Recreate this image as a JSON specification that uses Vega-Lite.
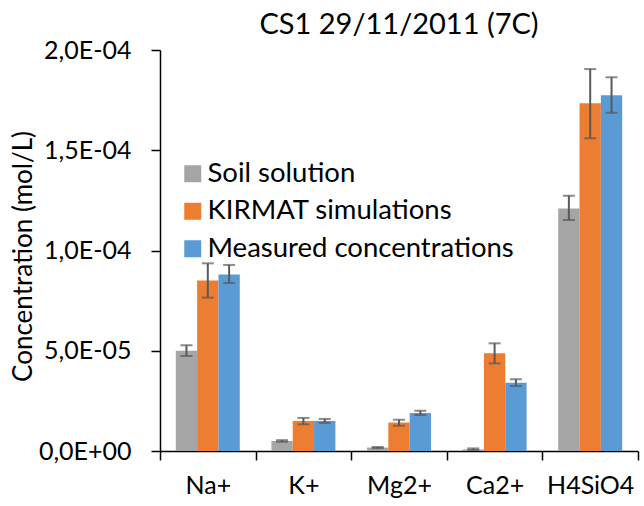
{
  "$schema": "https://vega.github.io/schema/vega-lite/v6.json",
  "autosize": {"type": "none"},
  "padding": {"left": 160, "top": 50, "right": 6, "bottom": 55},
  "width": 478,
  "height": 401,
  "title": {
    "text": "CS1 29/11/2011 (7C)",
    "font": "Lato",
    "fontSize": 29,
    "fontWeight": "normal",
    "color": "#000000",
    "baseline": "alphabetic",
    "offset": 12,
    "dy": 37
  },
  "data": {
    "values": [
      {"ion": "Na+", "series": "Soil solution", "value": 5.0e-5, "lo": 4.74e-5, "hi": 5.27e-5},
      {"ion": "Na+", "series": "KIRMAT simulations", "value": 8.5e-5, "lo": 7.65e-5, "hi": 9.36e-5},
      {"ion": "Na+", "series": "Measured concentrations", "value": 8.8e-5, "lo": 8.38e-5, "hi": 9.28e-5},
      {"ion": "K+", "series": "Soil solution", "value": 5.0e-6, "lo": 4.6e-6, "hi": 5.4e-6},
      {"ion": "K+", "series": "KIRMAT simulations", "value": 1.5e-5, "lo": 1.33e-5, "hi": 1.65e-5},
      {"ion": "K+", "series": "Measured concentrations", "value": 1.5e-5, "lo": 1.4e-5, "hi": 1.6e-5},
      {"ion": "Mg2+", "series": "Soil solution", "value": 1.7e-6, "lo": 1.4e-6, "hi": 2.0e-6},
      {"ion": "Mg2+", "series": "KIRMAT simulations", "value": 1.42e-5, "lo": 1.26e-5, "hi": 1.56e-5},
      {"ion": "Mg2+", "series": "Measured concentrations", "value": 1.9e-5, "lo": 1.8e-5, "hi": 2.01e-5},
      {"ion": "Ca2+", "series": "Soil solution", "value": 8.0e-7, "lo": 5.0e-7, "hi": 1.3e-6},
      {"ion": "Ca2+", "series": "KIRMAT simulations", "value": 4.87e-5, "lo": 4.37e-5, "hi": 5.37e-5},
      {"ion": "Ca2+", "series": "Measured concentrations", "value": 3.41e-5, "lo": 3.24e-5, "hi": 3.58e-5},
      {"ion": "H4SiO4", "series": "Soil solution", "value": 1.21e-4, "lo": 1.152e-4, "hi": 1.273e-4},
      {"ion": "H4SiO4", "series": "KIRMAT simulations", "value": 1.734e-4, "lo": 1.56e-4, "hi": 1.905e-4},
      {"ion": "H4SiO4", "series": "Measured concentrations", "value": 1.774e-4, "lo": 1.687e-4, "hi": 1.864e-4}
    ]
  },
  "encoding": {
    "x": {
      "field": "ion",
      "type": "nominal",
      "sort": ["Na+", "K+", "Mg2+", "Ca2+", "H4SiO4"],
      "scale": {"paddingInner": 0, "paddingOuter": 0},
      "axis": {
        "title": null,
        "labelAngle": 0,
        "tickBand": "extent",
        "tickSize": 9,
        "tickWidth": 1.5,
        "domainWidth": 1.5,
        "labelPadding": 13,
        "labelFontSize": 25
      }
    },
    "xOffset": {
      "field": "series",
      "type": "nominal",
      "sort": ["Soil solution", "KIRMAT simulations", "Measured concentrations"],
      "scale": {"paddingInner": 0, "paddingOuter": 0.741}
    }
  },
  "layer": [
    {
      "mark": {"type": "bar"},
      "encoding": {
        "y": {
          "field": "value",
          "type": "quantitative",
          "scale": {"domain": [0, 0.0002], "nice": false, "zero": true},
          "axis": {
            "title": "Concentration (mol/L)",
            "values": [0, 0.00005, 0.0001, 0.00015, 0.0002],
            "labelExpr": "datum.value === 0 ? '0,0E+00' : replace(replace(format(datum.value, '.1e'), '.', ','), 'e-', 'E-0')",
            "grid": false,
            "tickSize": 9,
            "tickWidth": 1.5,
            "domainWidth": 1.5,
            "labelPadding": 20,
            "labelFontSize": 25,
            "titleFontSize": 26,
            "titleX": -137,
            "titleY": 206,
            "titleAngle": -90,
            "titleBaseline": "middle",
            "titleAlign": "center"
          }
        },
        "color": {
          "field": "series",
          "type": "nominal",
          "sort": ["Soil solution", "KIRMAT simulations", "Measured concentrations"],
          "scale": {
            "domain": ["Soil solution", "KIRMAT simulations", "Measured concentrations"],
            "range": ["#A5A5A5", "#ED7D31", "#5B9BD5"]
          },
          "legend": {
            "title": null,
            "orient": "none",
            "legendX": 19,
            "legendY": 110,
            "symbolType": "square",
            "symbolSize": 289,
            "symbolStrokeWidth": 0,
            "labelFontSize": 27.5,
            "labelOffset": 1,
            "rowPadding": 8.5,
            "labelLimit": 400
          }
        }
      }
    },
    {
      "mark": {"type": "rule", "color": "#595959", "strokeWidth": 2},
      "encoding": {
        "y": {"field": "lo", "type": "quantitative"},
        "y2": {"field": "hi"}
      }
    },
    {
      "mark": {"type": "tick", "color": "#595959", "thickness": 2, "size": 12},
      "encoding": {
        "y": {"field": "lo", "type": "quantitative"}
      }
    },
    {
      "mark": {"type": "tick", "color": "#595959", "thickness": 2, "size": 12},
      "encoding": {
        "y": {"field": "hi", "type": "quantitative"}
      }
    }
  ],
  "config": {
    "font": "Lato",
    "view": {"stroke": null},
    "axis": {
      "labelFont": "Lato",
      "titleFont": "Lato",
      "labelColor": "#000000",
      "titleColor": "#000000",
      "titleFontWeight": "normal",
      "domainColor": "#000000",
      "tickColor": "#000000"
    },
    "legend": {"labelFont": "Lato", "labelColor": "#000000"}
  }
}
